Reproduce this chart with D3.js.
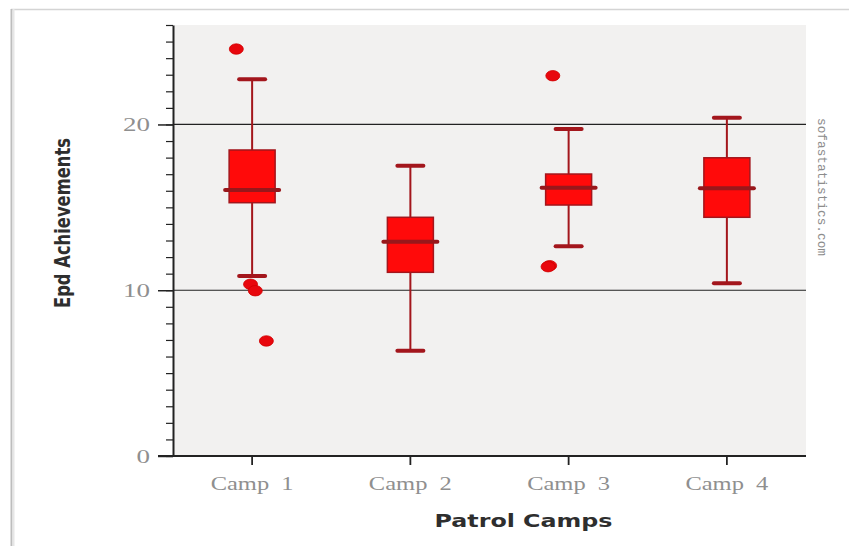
<!DOCTYPE html>
<html>
<head>
<meta charset="utf-8">
<script src="https://cdn.jsdelivr.net/npm/d3@7"></script>
<style>
  html, body { margin: 0; padding: 0; background: #ffffff; }
  svg { display: block; }
</style>
</head>
<body>
<svg id="chart" width="849" height="546"></svg>
<script>
// ---- data ----
const categories = ["Camp 1", "Camp 2", "Camp 3", "Camp 4"];
const lowerWhisker = [10.86, 6.35, 12.65, 10.42];
const q1 = [15.28, 11.08, 15.14, 14.40];
const median = [16.04, 12.93, 16.18, 16.15];
const q3 = [18.46, 14.40, 17.01, 17.99];
const upperWhisker = [22.72, 17.51, 19.72, 20.40];
const outlierCamp = ["Camp 1", "Camp 1", "Camp 1", "Camp 1", "Camp 3", "Camp 3", "Camp 3"];
const outlierValue = [24.55, 10.36, 9.97, 6.94, 22.94, 11.48, 11.42];
const yMajorTicks = [0, 10, 20];
const yDomain = [0, 26];
const xTitle = "Patrol Camps";
const yTitle = "Epd Achievements";
const watermark = "sofastatistics.com";

// ---- layout / style ----
const W = 849, H = 546;
const plot = { left: 173, right: 806, top: 25, bottom: 456 };
const jitter = [-0.1, -0.01, 0.02, 0.09, -0.1, -0.12, -0.13]; // fraction of band width
const boxFill = "#ff0a0a", darkRed = "#a3161c";

const svg = d3.select("#chart");

// frame lines
svg.append("line").attr("x1", 11).attr("x2", W).attr("y1", 9.5).attr("y2", 9.5)
  .attr("stroke", "#d4d4d4").attr("stroke-width", 1.5);
svg.append("line").attr("x1", 11.5).attr("x2", 11.5).attr("y1", 9).attr("y2", H)
  .attr("stroke", "#bdbdbd").attr("stroke-width", 2);
svg.append("line").attr("x1", 13.5).attr("x2", 13.5).attr("y1", 9).attr("y2", H)
  .attr("stroke", "#e6e6e6").attr("stroke-width", 2);

const x = d3.scaleBand().domain(categories).range([plot.left, plot.right]).padding(0);
const y = d3.scaleLinear().domain(yDomain).range([plot.bottom, plot.top]);

// plot background
svg.append("rect")
  .attr("x", plot.left).attr("y", plot.top)
  .attr("width", plot.right - plot.left).attr("height", plot.bottom - plot.top)
  .attr("fill", "#f2f1f0");

// gridlines
svg.append("g").selectAll("line").data(yMajorTicks.filter(d => d > 0)).join("line")
  .attr("x1", plot.left).attr("x2", plot.right)
  .attr("y1", d => y(d)).attr("y2", d => y(d))
  .attr("stroke", "#222").attr("stroke-width", 1.2);

// y axis: minor ticks
const yMinor = d3.range(yDomain[0], yDomain[1] + 1, 1);
const yAxisMinor = d3.axisLeft(y).tickValues(yMinor).tickSize(7).tickFormat("");
const gMinor = svg.append("g").attr("transform", `translate(${plot.left},0)`).call(yAxisMinor);
gMinor.select(".domain").remove();
gMinor.selectAll("line").attr("stroke", "#222").attr("stroke-width", 1.2);

// y axis major
const yAxis = d3.axisLeft(y).tickValues(yMajorTicks).tickSize(15).tickPadding(8)
  .tickSizeOuter(0).tickFormat(d3.format("d"));
const gy = svg.append("g").attr("transform", `translate(${plot.left},0)`).call(yAxis);
gy.select(".domain").attr("stroke", "#222").attr("stroke-width", 2);
gy.selectAll(".tick line").attr("stroke", "#222").attr("stroke-width", 1.5);
gy.selectAll(".tick text")
  .attr("font-family", "Liberation Serif, serif").attr("font-size", 19)
  .attr("fill", "#8f8f8f")
  .attr("textLength", d => String(d).length * 13.5).attr("lengthAdjust", "spacingAndGlyphs");

// x axis
const xAxis = d3.axisBottom(x).tickSize(9).tickPadding(12).tickSizeOuter(0);
const gx = svg.append("g").attr("transform", `translate(0,${plot.bottom})`).call(xAxis);
gx.select(".domain").attr("d", `M${plot.left - 15},0H${plot.right}`)
  .attr("stroke", "#222").attr("stroke-width", 2);
gx.selectAll(".tick line").attr("stroke", "#222").attr("stroke-width", 1.8);
gx.selectAll(".tick text")
  .attr("font-family", "Liberation Serif, serif").attr("font-size", 19)
  .attr("fill", "#8f8f8f")
  .attr("textLength", 83).attr("lengthAdjust", "spacingAndGlyphs")
  .attr("xml:space", "preserve")
  .text(d => d.replace(" ", "  "));

// boxes
const bw = x.bandwidth();
const boxW = 46, capW = 26, medW = 54;
const g = svg.append("g");
categories.forEach((c, i) => {
  const cx = x(c) + bw / 2;
  g.append("line").attr("x1", cx).attr("x2", cx)
    .attr("y1", y(upperWhisker[i])).attr("y2", y(lowerWhisker[i]))
    .attr("stroke", darkRed).attr("stroke-width", 2);
  [upperWhisker[i], lowerWhisker[i]].forEach(v => {
    g.append("line").attr("x1", cx - capW / 2).attr("x2", cx + capW / 2)
      .attr("y1", y(v)).attr("y2", y(v))
      .attr("stroke", darkRed).attr("stroke-width", 4).attr("stroke-linecap", "round");
  });
  g.append("rect").attr("x", cx - boxW / 2).attr("y", y(q3[i]))
    .attr("width", boxW).attr("height", y(q1[i]) - y(q3[i]))
    .attr("fill", boxFill).attr("stroke", darkRed).attr("stroke-width", 1.5);
  g.append("line").attr("x1", cx - medW / 2).attr("x2", cx + medW / 2)
    .attr("y1", y(median[i])).attr("y2", y(median[i]))
    .attr("stroke", "#98171b").attr("stroke-width", 4).attr("stroke-linecap", "round");
});

// outliers
g.selectAll("ellipse.out").data(outlierValue).join("ellipse")
  .attr("class", "out")
  .attr("cx", (d, i) => x(outlierCamp[i]) + bw / 2 + jitter[i] * bw)
  .attr("cy", d => y(d))
  .attr("rx", 7).attr("ry", 5.2)
  .attr("fill", "#e8070d").attr("stroke", "#d00000").attr("stroke-width", 0.8);

// titles
svg.append("text")
  .attr("x", (plot.left + plot.right) / 2 + 34).attr("y", 527)
  .attr("text-anchor", "middle")
  .attr("font-family", "DejaVu Sans, sans-serif").attr("font-weight", "bold")
  .attr("font-size", 18).attr("fill", "#2e2e2e")
  .attr("textLength", 178).attr("lengthAdjust", "spacingAndGlyphs")
  .text(xTitle);

svg.append("text")
  .attr("transform", `translate(70,223) rotate(-90)`)
  .attr("text-anchor", "middle")
  .attr("font-family", "DejaVu Sans, sans-serif").attr("font-weight", "bold")
  .attr("font-size", 21).attr("fill", "#2e2e2e")
  .attr("textLength", 170).attr("lengthAdjust", "spacingAndGlyphs")
  .text(yTitle);

// watermark
svg.append("text")
  .attr("transform", `translate(818,187) rotate(90)`)
  .attr("text-anchor", "middle")
  .attr("font-family", "Liberation Mono, monospace")
  .attr("font-size", 13).attr("fill", "#8c8c8c")
  .attr("textLength", 138).attr("lengthAdjust", "spacingAndGlyphs")
  .text(watermark);
</script>
</body>
</html>
